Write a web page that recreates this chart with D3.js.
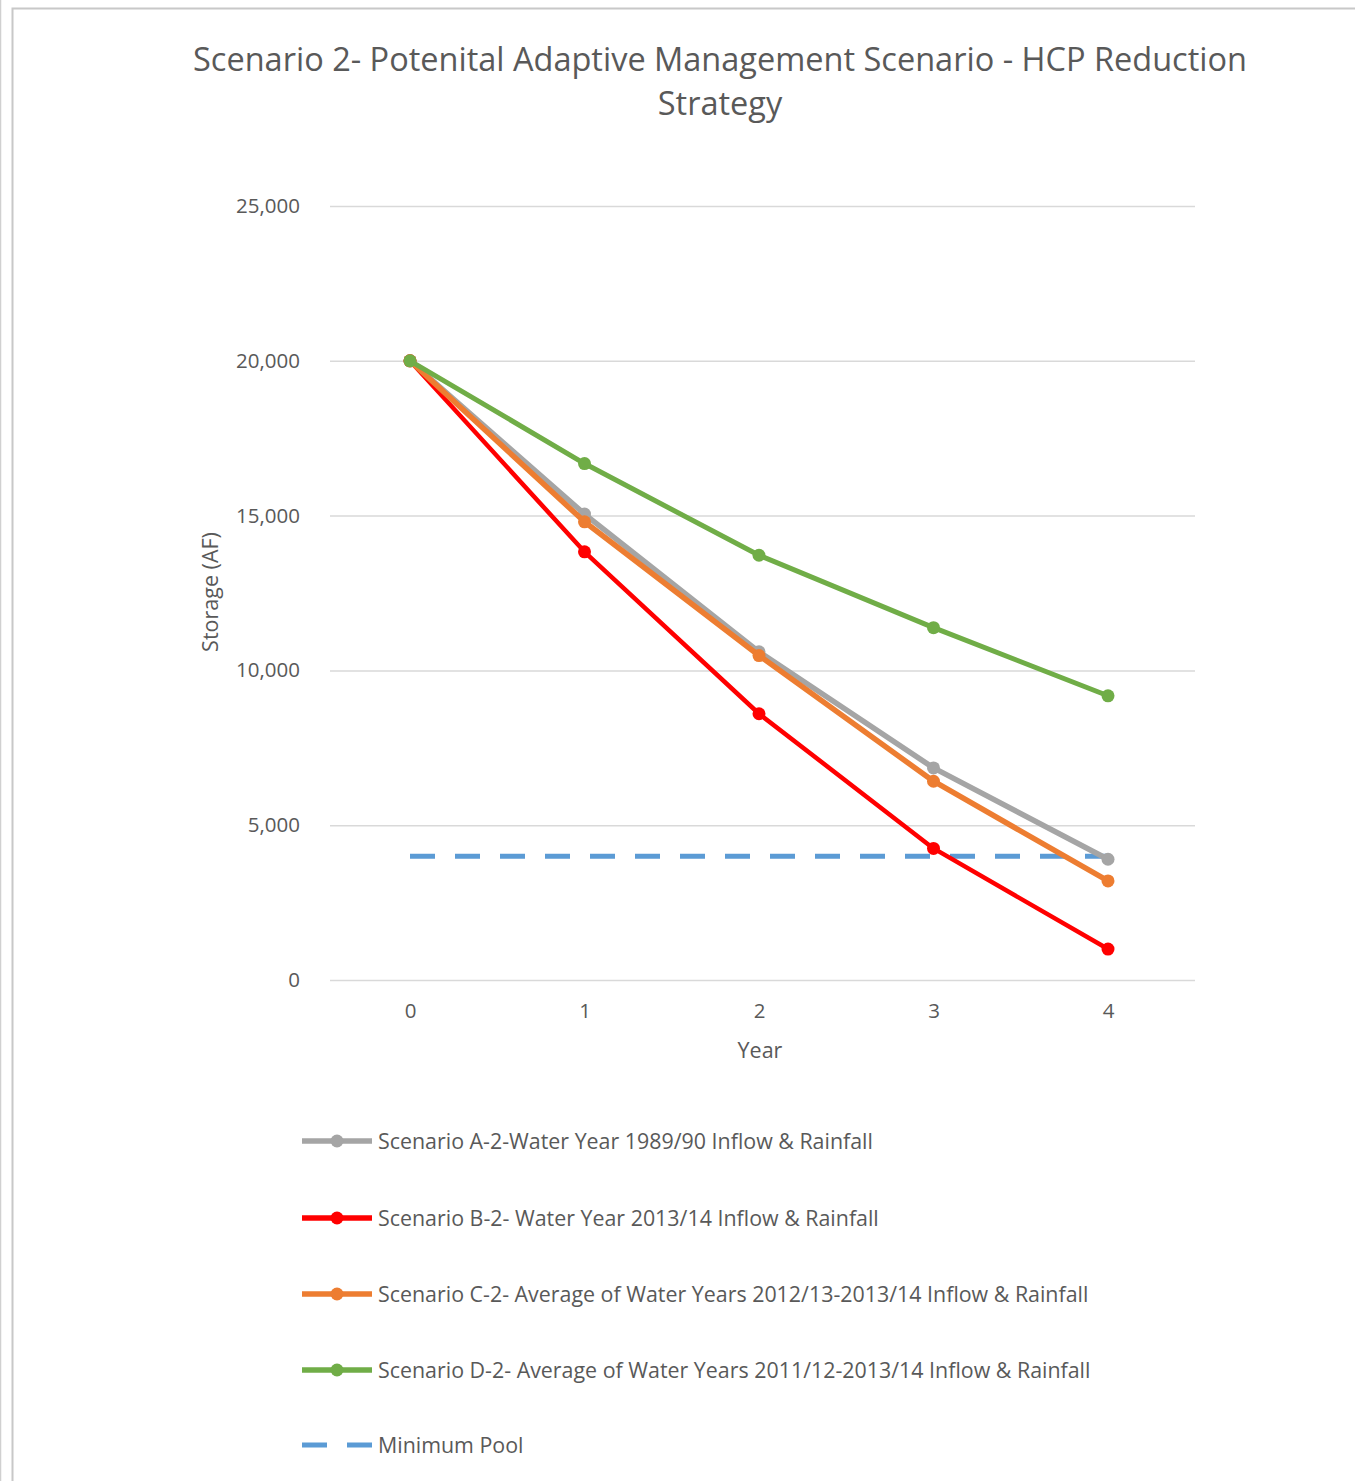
<!DOCTYPE html>
<html><head><meta charset="utf-8">
<script src="https://cdn.jsdelivr.net/npm/d3@7"></script>
<style>body{margin:0;background:#fff}svg{display:block}text{font-family:"Open Sans",sans-serif}</style>
</head><body>
<script>
const years = [0, 1, 2, 3, 4];
const yTicks = [0, 5000, 10000, 15000, 20000, 25000];
const scenarioA = [20000, 15050, 10600, 6850, 3900];
const scenarioB = [20000, 13830, 8600, 4250, 1000];
const scenarioC = [20000, 14800, 10480, 6420, 3200];
const scenarioD = [20000, 16680, 13720, 11380, 9180];
const minimumPool = [4000, 4000, 4000, 4000, 4000];
const seriesNames = [
  "Scenario A-2-Water Year 1989/90 Inflow & Rainfall",
  "Scenario B-2- Water Year 2013/14 Inflow & Rainfall",
  "Scenario C-2- Average of Water Years 2012/13-2013/14 Inflow & Rainfall",
  "Scenario D-2- Average of Water Years 2011/12-2013/14 Inflow & Rainfall",
  "Minimum Pool"
];
const title1 = "Scenario 2- Potenital Adaptive Management Scenario - HCP Reduction";
const title2 = "Strategy";

const W = 1355, H = 1481;
const svg = d3.select("body").append("svg").attr("width", W).attr("height", H);
svg.append("rect").attr("width", W).attr("height", H).attr("fill", "#fff");
svg.append("line").attr("x1",0.5).attr("x2",0.5).attr("y1",0).attr("y2",H).attr("stroke","#d0d0d0").attr("stroke-width",1.5);
svg.append("rect").attr("x",12.5).attr("y",8.5).attr("width",W).attr("height",H).attr("fill","none").attr("stroke","#c8c8c8").attr("stroke-width",2);

const plotLeft = 330, plotRight = 1195;
const x = d3.scaleLinear().domain([0, 4]).range([410, 1108]);
const y = d3.scaleLinear().domain([0, 25000]).range([980, 206]);

// title
svg.append("text").attr("x", 720).attr("y", 71).attr("text-anchor","middle")
  .attr("font-size", 32.5).attr("fill","#595959").text(title1);
svg.append("text").attr("x", 720).attr("y", 115).attr("text-anchor","middle")
  .attr("font-size", 32.5).attr("fill","#595959").text(title2);

// gridlines via axis
const yAxis = d3.axisLeft(y).tickValues(yTicks).tickSize(-(plotRight-plotLeft)).tickFormat(d3.format(","));
const gy = svg.append("g").attr("transform",`translate(${plotLeft},0)`).call(yAxis);
gy.select(".domain").remove();
gy.selectAll(".tick line").attr("stroke","#d9d9d9").attr("stroke-width",1.5);
gy.selectAll(".tick text").attr("x",-30).attr("font-size",20.5).attr("fill","#595959").attr("font-family","Open Sans");

const xAxis = d3.axisBottom(x).tickValues(years).tickSize(0).tickFormat(d3.format("d"));
const gx = svg.append("g").attr("transform","translate(0,980)").call(xAxis);
gx.select(".domain").remove();
gx.selectAll(".tick text").attr("dy",0).attr("y",38).attr("font-size",20.5).attr("fill","#595959").attr("font-family","Open Sans");

svg.append("text").attr("x",760).attr("y",1058).attr("text-anchor","middle").attr("font-size",21.5).attr("fill","#595959").text("Year");
svg.append("text").attr("transform","translate(218,592) rotate(-90)").attr("text-anchor","middle").attr("font-size",21.5).attr("fill","#595959").text("Storage (AF)");

const line = d3.line().x((d,i)=>x(years[i])).y(d=>y(d));

// minimum pool
svg.append("path").datum(minimumPool).attr("d", line).attr("fill","none")
  .attr("stroke","#5b9bd5").attr("stroke-width",5).attr("stroke-dasharray","25,20");

const series = [
  {v: scenarioA, c: "#a5a5a5", w: 5.5},
  {v: scenarioB, c: "#ff0000", w: 4.5},
  {v: scenarioC, c: "#ed7d31", w: 5.5},
  {v: scenarioD, c: "#70ad47", w: 5}
];
series.forEach(s=>{
  svg.append("path").datum(s.v).attr("d", line).attr("fill","none")
    .attr("stroke", s.c).attr("stroke-width", s.w).attr("stroke-linejoin","round");
  svg.append("g").selectAll("circle").data(s.v).join("circle")
    .attr("cx",(d,i)=>x(years[i])).attr("cy",d=>y(d)).attr("r",6.5).attr("fill",s.c);
});

// legend
const legendColors = ["#a5a5a5","#ff0000","#ed7d31","#70ad47","#5b9bd5"];
const legendY = [1141, 1218, 1294, 1370, 1445];
seriesNames.forEach((n,i)=>{
  const g = svg.append("g").attr("transform",`translate(0,${legendY[i]})`);
  if (i < 4) {
    g.append("line").attr("x1",302).attr("x2",372).attr("y1",0).attr("y2",0).attr("stroke",legendColors[i]).attr("stroke-width",5.5);
    g.append("circle").attr("cx",337).attr("cy",0).attr("r",6.5).attr("fill",legendColors[i]);
  } else {
    g.append("line").attr("x1",302).attr("x2",372).attr("y1",0).attr("y2",0).attr("stroke",legendColors[i]).attr("stroke-width",5)
      .attr("stroke-dasharray","25,20");
  }
  g.append("text").attr("x",378).attr("y",7.5).attr("font-size",21.4).attr("fill","#595959").text(n);
});
</script>
</body></html>
